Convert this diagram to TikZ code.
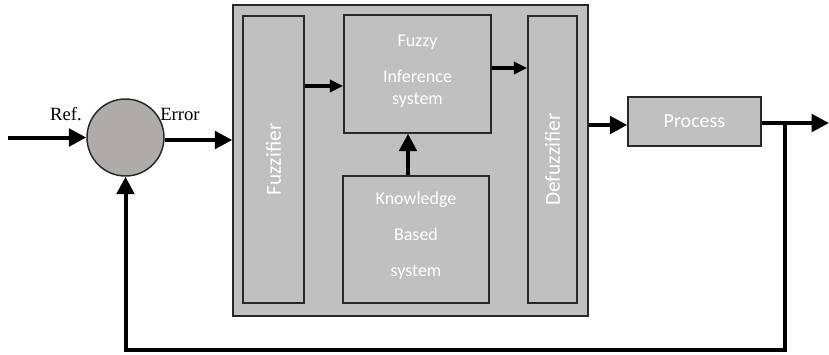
\documentclass[tikz,border=0pt]{standalone}
\usepackage{fontspec}
\setmainfont{Liberation Serif}
\newfontfamily\boxfont{Carlito}
\usepackage{tikz}
\usetikzlibrary{arrows.meta,calc}

\definecolor{boxgray}{RGB}{192,192,192}
\definecolor{sumgray}{RGB}{175,171,171}
\definecolor{edgegray}{RGB}{40,40,40}

\begin{document}
\begin{tikzpicture}[x=0.75pt,y=-0.75pt,
    block/.style={draw=edgegray,line width=1.1pt,fill=boxgray,inner sep=0pt},
    intext/.style={text=white,font=\boxfont\fontsize{13.5}{16.5}\selectfont,align=center},
    flow/.style={line width=3pt,-{Triangle[length=13pt,width=13pt]}},
    small/.style={line width=3pt,-{Triangle[length=10pt,width=9pt]}}]
      \useasboundingbox (0,0) rectangle (829,354);

      \node[block,minimum width=266.25pt,minimum height=233.25pt] (outer) at (410.5,160.5) {};
      \node[block,minimum width=45.75pt,minimum height=215.25pt] (fuzz) at (273.5,159.5) {};
      \node[intext,font=\boxfont\fontsize{16}{19}\selectfont,rotate=90] at (fuzz.center) {Fuzzifier};
      \node[block,minimum width=36.75pt,minimum height=215.25pt] (defuzz) at (552.5,159.5) {};
      \node[intext,font=\boxfont\fontsize{16}{19}\selectfont,rotate=90] at (defuzz.center) {Defuzzifier};
      \node[block,minimum width=110.25pt,minimum height=88.5pt,
        label={[intext,yshift=2pt]center:Fuzzy\\[10.5pt]Inference\\system}] (fis) at (417.5,74) {};
      \node[block,minimum width=109.5pt,minimum height=95.25pt,
        label={[intext,yshift=2.5pt]center:Knowledge\\[10.5pt]Based\\[10.5pt]system}] (kb) at (416,239.5) {};
      \node[block,minimum width=99.75pt,minimum height=36.75pt,text=white,
        font=\boxfont\fontsize{15}{18}\selectfont] (proc) at (694.5,121.5) {Process};

      \node[draw=edgegray,line width=1.1pt,fill=sumgray,circle,minimum size=57.75pt,
        inner sep=0pt] (sum) at (125.5,137.5) {};
      \node[font=\fontsize{14}{16}\selectfont] at (66,114) {Ref.};
      \node[font=\fontsize{14}{16}\selectfont] at (180,114) {Error};

      \coordinate (ref) at (8,137.5);
      \coordinate (out) at (829,123);
      \coordinate (branch) at (785,123);

      \draw[flow] (ref) -- (sum.west);
      \draw[flow] (sum.east |- 0,140) -- (outer.west |- 0,140);
      \draw[small] (fuzz.east |- 0,86) -- (fis.west |- 0,86);
      \draw[small] (fis.east |- 0,68) -- (defuzz.west |- 0,68);
      \draw[flow] (408,0 |- kb.north) -- (408,0 |- fis.south);
      \draw[flow] (outer.east |- 0,125) -- (proc.west |- 0,125);
      \draw[flow] (proc.east |- out) -- (out);
      \draw[flow] (branch) -- (785,350) -- (125.5,350) -- (sum.south);
\end{tikzpicture}
\end{document}
